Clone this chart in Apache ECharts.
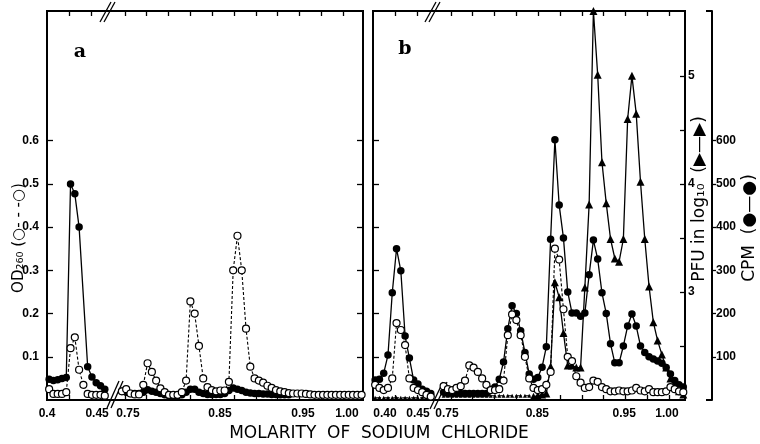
<!DOCTYPE html>
<html>
<head>
<meta charset="utf-8">
<script src="https://cdn.jsdelivr.net/npm/echarts@6/dist/echarts.min.js"></script>
<style>
  html, body { margin: 0; padding: 0; background: #fff; }
  #main { width: 760px; height: 444px; }
</style>
</head>
<body>
<div id="main"></div>
<script>
// fraction numbers: each panel has a run before the axis break and a run after it
var preStart = 1;
var postStartA = 18;
var postStartB = 17;

// panel a : OD260 (open circles) and filled circles (cpm scale)
var odPreA = [0.025, 0.014, 0.014, 0.014, 0.018, 0.12, 0.145, 0.07, 0.035, 0.014, 0.012, 0.012, 0.012, 0.01];
var odPostA = [0.02, 0.025, 0.015, 0.013, 0.013, 0.035, 0.085, 0.065, 0.045, 0.027,
  0.018, 0.012, 0.012, 0.012, 0.018, 0.045, 0.228, 0.2, 0.125, 0.05,
  0.03, 0.023, 0.02, 0.022, 0.022, 0.042, 0.30, 0.38, 0.30, 0.165,
  0.077, 0.05, 0.045, 0.04, 0.033, 0.028, 0.023, 0.02, 0.018, 0.016,
  0.015, 0.015, 0.015, 0.014, 0.013, 0.012, 0.012, 0.012, 0.012, 0.012,
  0.012, 0.012, 0.012, 0.012, 0.012, 0.012, 0.012];
var cpmPreA = [48, 45, 47, 50, 52, 500, 477, 400, null, 77, 53, 40, 33, 25];
var cpmPostA = [20, 18, 15, 15, 15, 18, 24, 20, 18, 15,
  12, 10, 10, 10, 12, 18, 25, 25, 18, 15,
  13, 13, 13, 13, 15, 22, 28, 25, 22, 18,
  16, 15, 15, 14, 14, 13, 13, 12, 12, 12];

// panel b : OD260, CPM and PFU (log10)
var odPreB = [0.035, 0.028, 0.023, 0.028, 0.05, 0.178, 0.162, 0.127, 0.05, 0.028, 0.023, 0.018, 0.012, 0.008];
var odPostB = [0.032, 0.025, 0.023, 0.028, 0.032, 0.045, 0.08, 0.075, 0.065, 0.05,
  0.035, 0.023, 0.023, 0.025, 0.045, 0.15, 0.198, 0.185, 0.15, 0.1,
  0.05, 0.028, 0.023, 0.025, 0.035, 0.065, 0.35, 0.325, 0.21, 0.1,
  0.09, 0.055, 0.04, 0.028, 0.03, 0.045, 0.042, 0.03, 0.025, 0.02,
  0.02, 0.022, 0.02, 0.02, 0.022, 0.028, 0.022, 0.02, 0.025, 0.018,
  0.018, 0.018, 0.02, 0.03, 0.025, 0.02, 0.018];
var cpmPreB = [46, 48, 62, 104, 248, 350, 299, 148, 97, 46, 37, 25, 20, 15];
var cpmPostB = [18, 15, 15, 15, 15, 15, 15, 15, 15, 15,
  15, 25, 30, 48, 88, 165, 218, 200, 160, 110,
  60, 48, 52, 76, 123, 372, 602, 451, 375, 250,
  201, 201, 194, 201, 290, 370, 326, 248, 200, 130,
  86, 86, 125, 171, 199, 171, 125, 110, 100, 95,
  90, 85, 75, 60, 45, 35, 30];
var pfuPreB = [2.02, 2.02, 2.02, 2.02, 2.02, 2.02, 2.02, 2.02, 2.02, 2.02, 2.02, 2.02, 2.02, 2.02];
var pfuPostB = [2.04, 2.04, 2.04, 2.04, 2.04, 2.04, 2.04, 2.04, 2.04, 2.04,
  2.04, 2.04, 2.04, 2.04, 2.04, 2.04, 2.04, 2.04, 2.04, 2.04,
  2.04, 2.03, 2.04, 2.05, 2.06, 2.31, 3.09, 2.95, 2.62, 2.32,
  2.32, 2.30, 2.30, 3.04, 3.81, 5.6, 5.01, 4.2, 3.82, 3.49,
  3.31, 3.28, 3.49, 4.6, 5.0, 4.65, 4.02, 3.49, 3.05, 2.72,
  2.55, 2.42, 2.3, 2.2, 2.13, 2.08, 2.05];
var pfuFirstPeakIdx = 21; // plaque assay rises above background from here

// axis ticks and labels
var odTicks = [0.1, 0.2, 0.3, 0.4, 0.5, 0.6];
var cpmTicks = [100, 200, 300, 400, 500, 600];
var pfuTicks = [2.5, 3, 3.5, 4, 4.5, 5];
var pfuLabels = [3, 4, 5];
var frameTickFrac = [5.7, 10.8, 18.7, 23.8, 28.9, 34, 39.1, 44.2, 49.3, 54.4, 59.5, 64.6, 69.7];
var molarLabels = ['0.4', '0.45', '0.75', '0.85', '0.95', '1.00'];
var molarFracA = [0.5, 12.2, 19.4, 40.9, 60.3, 70.6];
var molarLabelsB = ['0.40', '0.45', '0.75', '0.85', '0.95', '1.00'];
var molarFracB = [3.3, 11.0, 17.8, 38.9, 59.2, 69.2];

var tickFont = "'Liberation Sans Narrow', 'Liberation Sans', Arial, sans-serif";

function pts(start, vals) {
  var out = [];
  vals.forEach(function (v, i) {
    if (v != null) out.push([start + i, v]);
  });
  return out;
}
function joined(pre, postStart, post) {
  return pts(preStart, pre).concat([[postStart - 1.5, '-']], pts(postStart, post));
}
function nearestLabel(v, pos, labels) {
  var best = 0;
  for (var i = 1; i < pos.length; i++) {
    if (Math.abs(pos[i] - v) < Math.abs(pos[best] - v)) best = i;
  }
  return Math.abs(pos[best] - v) < 0.05 ? labels[best] : '';
}

function frameX(grid, pos, max, labelPos, labels) {
  return {
    type: 'value', gridIndex: grid, position: pos, min: 0.5, max: max,
    axisLine: { show: false, onZero: false },
    splitLine: { show: false },
    axisTick: { show: true, inside: true, length: 5, customValues: frameTickFrac,
      lineStyle: { color: '#000', width: 1.3 } },
    axisLabel: labels ? {
      show: true, customValues: labelPos, margin: 8, color: '#000',
      fontFamily: tickFont, fontSize: 12, fontWeight: 'bold',
      formatter: function (v) { return nearestLabel(v, labelPos, labels); }
    } : { show: false }
  };
}
function odY(grid, pos, labels) {
  return {
    type: 'value', gridIndex: grid, position: pos, min: 0, max: 0.9,
    axisLine: { show: false, onZero: false }, splitLine: { show: false },
    axisTick: { show: true, inside: true, length: 6, customValues: odTicks,
      lineStyle: { color: '#000', width: 1.3 } },
    axisLabel: labels ? {
      show: true, customValues: odTicks, margin: 8, color: '#000',
      fontFamily: tickFont, fontSize: 12, fontWeight: 'bold',
      formatter: function (v) { return v.toFixed(1); }
    } : { show: false }
  };
}

var chart = echarts.init(document.getElementById('main'), null, { renderer: 'canvas' });

var openStyle = {
  type: 'line', symbol: 'circle', symbolSize: 7, clip: false, z: 4,
  itemStyle: { color: '#fff', borderColor: '#000', borderWidth: 1.2 },
  lineStyle: { color: '#000', width: 1.1, type: [3, 2] }
};
var filledStyle = {
  type: 'line', symbol: 'circle', symbolSize: 7.5, clip: false, z: 2,
  itemStyle: { color: '#000' },
  lineStyle: { color: '#000', width: 1.3 }
};

var option = {
  animation: false,
  backgroundColor: '#fff',
  grid: [
    { left: 47, top: 11, width: 316, height: 389, show: true, borderColor: '#000', borderWidth: 2 },
    { left: 373, top: 11, width: 312, height: 389, show: true, borderColor: '#000', borderWidth: 2 }
  ],
  xAxis: [
    frameX(0, 'bottom', 74.33, molarFracA, molarLabels),
    frameX(0, 'top', 74.33),
    frameX(1, 'bottom', 73.4, molarFracB, molarLabelsB),
    frameX(1, 'top', 73.4)
  ],
  yAxis: [
    odY(0, 'left', true),
    odY(0, 'right', false),
    { type: 'value', gridIndex: 0, min: 0, max: 900, show: false },
    odY(1, 'left', false),
    {
      type: 'value', gridIndex: 1, position: 'right', min: 2, max: 5.6,
      axisLine: { show: false, onZero: false }, splitLine: { show: false },
      axisTick: { show: true, inside: true, length: 5, customValues: pfuTicks,
        lineStyle: { color: '#000', width: 1.3 } },
      axisLabel: { show: true, customValues: pfuLabels, margin: 3, color: '#000',
        fontFamily: tickFont, fontSize: 12, fontWeight: 'bold' }
    },
    {
      type: 'value', gridIndex: 1, position: 'right', offset: 27, min: 0, max: 900,
      axisLine: { show: true, onZero: false, lineStyle: { color: '#000', width: 2 } },
      splitLine: { show: false },
      axisTick: { show: true, inside: false, length: 4, customValues: cpmTicks,
        lineStyle: { color: '#000', width: 1.3 } },
      axisLabel: { show: true, customValues: cpmTicks, margin: 4, color: '#000',
        fontFamily: tickFont, fontSize: 12, fontWeight: 'bold' }
    },
    {
      type: 'value', gridIndex: 1, position: 'right', offset: 27, min: 0, max: 900,
      axisLine: { show: false, onZero: false }, splitLine: { show: false },
      axisTick: { show: true, inside: true, length: 6, customValues: [0, 900],
        lineStyle: { color: '#000', width: 2 } },
      axisLabel: { show: false }
    }
  ],
  series: [
    Object.assign({}, filledStyle, { xAxisIndex: 0, yAxisIndex: 2, data: joined(cpmPreA, postStartA, cpmPostA) }),
    Object.assign({}, openStyle, { xAxisIndex: 0, yAxisIndex: 0, data: joined(odPreA, postStartA, odPostA) }),
    Object.assign({}, filledStyle, { xAxisIndex: 2, yAxisIndex: 5, data: joined(cpmPreB, postStartB, cpmPostB) }),
    {
      type: 'line', xAxisIndex: 2, yAxisIndex: 4, z: 3, clip: false,
      symbol: 'triangle', symbolSize: 4,
      itemStyle: { color: '#000' },
      lineStyle: { color: '#000', width: 1.1, type: [6, 3] },
      data: joined(pfuPreB, postStartB, pfuPostB.slice(0, pfuFirstPeakIdx + 1))
    },
    {
      type: 'line', xAxisIndex: 2, yAxisIndex: 4, z: 3, clip: false,
      symbol: 'triangle', symbolSize: 8,
      itemStyle: { color: '#000' },
      lineStyle: { color: '#000', width: 1.3 },
      data: pts(postStartB + pfuFirstPeakIdx, pfuPostB.slice(pfuFirstPeakIdx))
    },
    Object.assign({}, openStyle, { xAxisIndex: 2, yAxisIndex: 3, data: joined(odPreB, postStartB, odPostB) })
  ],
  graphic: [
    { type: 'text', x: 80, y: 52, style: { text: 'a', font: 'bold 19px "DejaVu Serif", serif', fill: '#000', align: 'center', verticalAlign: 'middle' } },
    { type: 'text', x: 405, y: 49, style: { text: 'b', font: 'bold 19px "DejaVu Serif", serif', fill: '#000', align: 'center', verticalAlign: 'middle' } },
    { type: 'text', x: 379, y: 434, style: { text: 'MOLARITY  OF  SODIUM  CHLORIDE', font: '17px "DejaVu Sans", sans-serif', fill: '#000', align: 'center', verticalAlign: 'middle' } },
    { type: 'text', x: 19, y: 238, rotation: Math.PI / 2, style: { text: 'OD\u2082\u2086\u2080 (\u25CB- - -\u25CB)', font: '15px "DejaVu Sans", sans-serif', fill: '#000', align: 'center', verticalAlign: 'middle' } },
    { type: 'text', x: 700, y: 199, rotation: Math.PI / 2, style: { text: 'PFU in log\u2081\u2080  (\u25B6\u2014\u25B6)', font: '17px "DejaVu Sans", sans-serif', fill: '#000', align: 'center', verticalAlign: 'middle' } },
    { type: 'text', x: 750, y: 228, rotation: Math.PI / 2, style: { text: 'CPM  (\u25CF\u2014\u25CF)', font: '17px "DejaVu Sans", sans-serif', fill: '#000', align: 'center', verticalAlign: 'middle' } },
    // axis break marks
    { type: 'line', shape: { x1: 100, y1: 22, x2: 111, y2: 2 }, style: { stroke: '#000', lineWidth: 1.3 } },
    { type: 'line', shape: { x1: 104, y1: 22, x2: 115, y2: 2 }, style: { stroke: '#000', lineWidth: 1.3 } },
    { type: 'line', shape: { x1: 107, y1: 408, x2: 119, y2: 381 }, style: { stroke: '#000', lineWidth: 1.3 } },
    { type: 'line', shape: { x1: 111, y1: 408, x2: 123, y2: 381 }, style: { stroke: '#000', lineWidth: 1.3 } },
    { type: 'line', shape: { x1: 425, y1: 22, x2: 436, y2: 2 }, style: { stroke: '#000', lineWidth: 1.3 } },
    { type: 'line', shape: { x1: 429, y1: 22, x2: 440, y2: 2 }, style: { stroke: '#000', lineWidth: 1.3 } },
    { type: 'line', shape: { x1: 430, y1: 409, x2: 443, y2: 382 }, style: { stroke: '#000', lineWidth: 1.3 } },
    { type: 'line', shape: { x1: 434, y1: 409, x2: 447, y2: 382 }, style: { stroke: '#000', lineWidth: 1.3 } }
  ]
};

chart.setOption(option);
</script>
</body>
</html>
